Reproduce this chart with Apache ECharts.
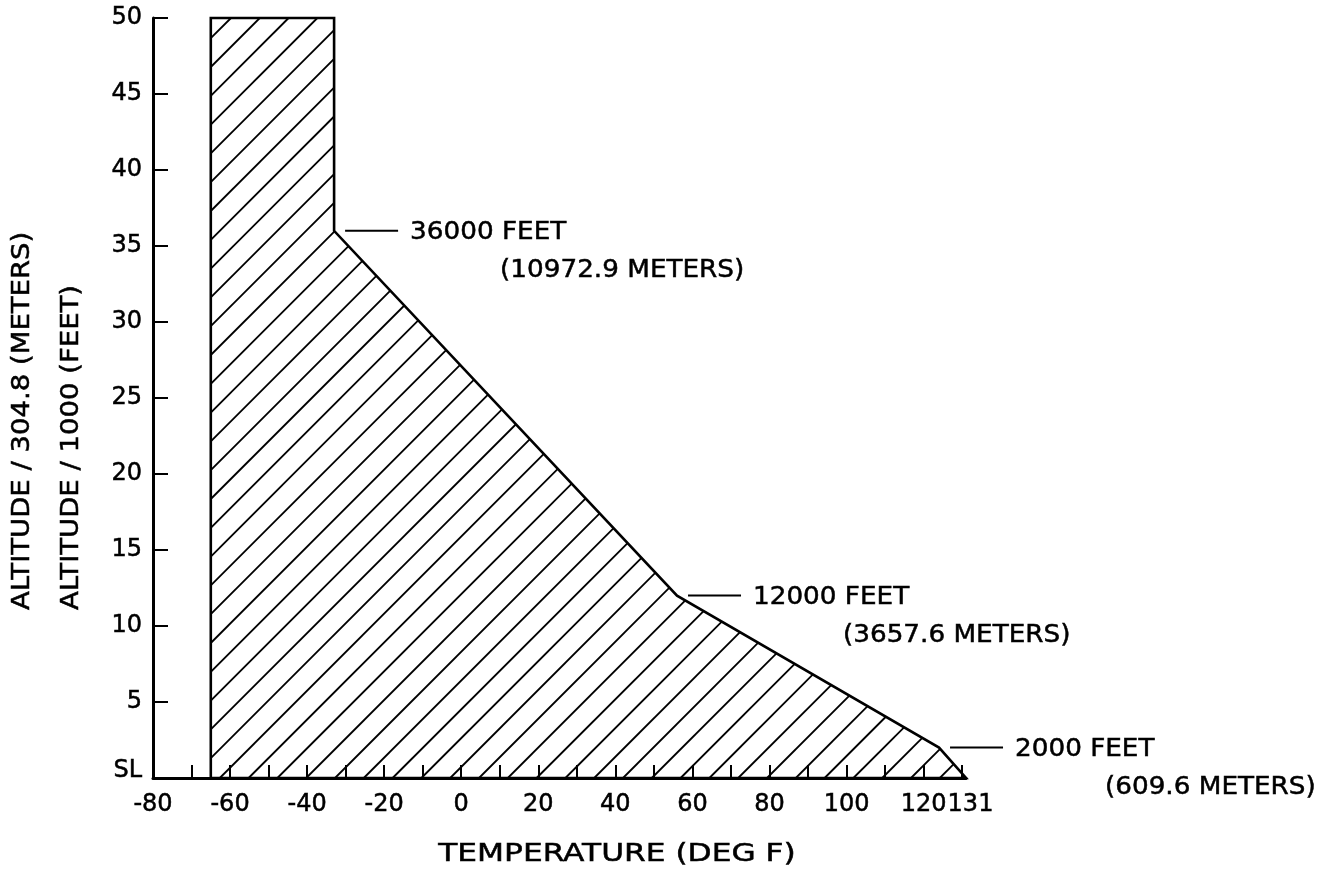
<!DOCTYPE html>
<html>
<head>
<meta charset="utf-8">
<script src="https://cdn.jsdelivr.net/npm/echarts@6/dist/echarts.min.js"></script>
<style>
  html, body { margin: 0; padding: 0; background: #fff; }
  #chart { width: 1333px; height: 870px; }
</style>
</head>
<body>
<div id="chart"></div>
<script>
// Envelope boundary: temperature (deg F) against altitude (thousands of feet)
const tempF = [-65, -65, -33, -33, 56, 124, 131];
const altitudeKft = [0, 50, 50, 36, 12, 2, 0];

// Axis ticks and labels
const xTickLabels = [-80, -60, -40, -20, 0, 20, 40, 60, 80, 100, 120, 131];
const xMinorTicks = [-70, -60, -50, -40, -30, -20, -10, 0, 10, 20, 30, 40, 50, 60, 70, 80, 90, 100, 110, 120, 130];

// Break-point callouts
const noteTempF = [-33, 56, 124];
const noteAltKft = [36, 12, 2];
const noteFeet = ['36000 FEET', '12000 FEET', '2000 FEET'];
const noteMeters = ['(10972.9 METERS)', '(3657.6 METERS)', '(609.6 METERS)'];

const FONT = 'DejaVu Sans';
const INK = '#000';
const HATCH_STEP = 28.8;   // horizontal distance between hatch lines, px
const HATCH_PHASE = 9;     // offset of the first hatch line from the lower-left corner, px
const X_MIN = -80, X_MAX = 131;

const chart = echarts.init(document.getElementById('chart'));

// Shaded envelope: outline plus 45-degree hatching clipped to the polygon
function renderEnvelope(params, api) {
  const pts = tempF.map((t, i) => api.coord([t, altitudeKft[i]]));
  const sums = pts.map(p => p[0] + p[1]);
  const lo = Math.min.apply(null, sums);
  const hi = Math.max.apply(null, sums);
  const base = pts[0][0] + pts[0][1] + HATCH_PHASE;
  const children = [];
  const k0 = Math.ceil((lo - base) / HATCH_STEP);
  for (let c = base + k0 * HATCH_STEP; c < hi; c += HATCH_STEP) {
    const hits = [];
    for (let i = 0; i < pts.length; i++) {
      const a = pts[i], b = pts[(i + 1) % pts.length];
      const fa = a[0] + a[1] - c, fb = b[0] + b[1] - c;
      if ((fa > 0) !== (fb > 0)) {
        const t = fa / (fa - fb);
        hits.push([a[0] + t * (b[0] - a[0]), a[1] + t * (b[1] - a[1])]);
      }
    }
    hits.sort((p, q) => p[0] - q[0]);
    for (let j = 0; j + 1 < hits.length; j += 2) {
      children.push({
        type: 'line',
        shape: { x1: hits[j][0], y1: hits[j][1], x2: hits[j + 1][0], y2: hits[j + 1][1] },
        style: { stroke: INK, lineWidth: 1.8 }
      });
    }
  }
  children.push({
    type: 'polygon',
    shape: { points: pts },
    style: { fill: 'none', stroke: INK, lineWidth: 2.6, lineJoin: 'miter' }
  });
  return { type: 'group', children: children };
}

const textStyleBase = {
  fill: INK, stroke: INK, lineWidth: 0.5,
  verticalAlign: 'middle', textVerticalAlign: 'middle'
};

// Leader line and two-line label at each break point
function renderNote(params, api) {
  const i = params.dataIndex;
  const p = api.coord([api.value(0), api.value(1)]);
  const textFont = '25px ' + FONT;
  return {
    type: 'group',
    children: [
      {
        type: 'line',
        shape: { x1: p[0] + 11, y1: p[1], x2: p[0] + 64, y2: p[1] },
        style: { stroke: INK, lineWidth: 2 }
      },
      {
        type: 'text', x: p[0] + 76, y: p[1] + 2, scaleX: 1.05,
        style: Object.assign({ text: noteFeet[i], font: textFont, align: 'left', textAlign: 'left' }, textStyleBase)
      },
      {
        type: 'text', x: p[0] + 166, y: p[1] + 40, scaleX: 1.05,
        style: Object.assign({ text: noteMeters[i], font: textFont, align: 'left', textAlign: 'left' }, textStyleBase)
      }
    ]
  };
}

const tickLabelStyle = {
  show: true, margin: 15, color: INK, fontFamily: FONT, fontSize: 24,
  textBorderColor: INK, textBorderWidth: 0.5,
  showMinLabel: true, showMaxLabel: true, hideOverlap: false,
  formatter: v => (v < 0 ? '-' + Math.abs(v) : String(v))
};

const option = {
  backgroundColor: '#fff',
  animation: false,
  grid: { left: 153, top: 18, width: 813, height: 760, containLabel: false },
  xAxis: [
    {
      type: 'value',
      position: 'bottom',
      min: X_MIN,
      max: X_MAX,
      axisLine: { show: true, onZero: false, lineStyle: { color: INK, width: 3 } },
      axisTick: { show: true, inside: true, length: 13, lineStyle: { color: INK, width: 2 }, customValues: xMinorTicks },
      axisLabel: Object.assign({}, tickLabelStyle, { customValues: xTickLabels.filter(v => v !== X_MAX) }),
      splitLine: { show: false }
    },
    {
      // end-of-scale label, kept on its own axis so it sits right beside its neighbour
      type: 'value',
      position: 'bottom',
      offset: 0,
      min: X_MIN,
      max: X_MAX,
      axisLine: { show: false },
      axisTick: { show: false },
      axisLabel: Object.assign({}, tickLabelStyle, {
        customValues: xTickLabels.filter(v => v === X_MAX),
        formatter: v => '{end|' + v + '}',
        rich: { end: { fontFamily: FONT, fontSize: 24, color: INK, textBorderColor: INK, textBorderWidth: 0.5, padding: [0, 0, 0, 9] } }
      }),
      splitLine: { show: false }
    }
  ],
  yAxis: {
    type: 'value',
    min: 0,
    max: 50,
    interval: 5,
    axisLine: { show: true, onZero: false, lineStyle: { color: INK, width: 3 } },
    axisTick: { show: true, inside: true, length: 15, lineStyle: { color: INK, width: 2 } },
    axisLabel: {
      show: true, margin: 11, color: INK, fontFamily: FONT, fontSize: 24,
      textBorderColor: INK, textBorderWidth: 0.5,
      showMinLabel: true, showMaxLabel: true,
      formatter: v => (v === 0 ? '{sl|SL}' : String(v)),
      rich: { sl: { fontFamily: FONT, fontSize: 24, color: INK, textBorderColor: INK, textBorderWidth: 0.5, padding: [0, 0, 14, 0] } }
    },
    splitLine: { show: false }
  },
  graphic: [
    {
      type: 'text', x: 617, y: 854, scaleX: 1.25,
      style: Object.assign({ text: 'TEMPERATURE (DEG F)', font: '25px ' + FONT, align: 'center', textAlign: 'center' }, textStyleBase)
    },
    {
      type: 'text', x: 22, y: 610, rotation: Math.PI / 2, scaleX: 1.1,
      style: Object.assign({ text: 'ALTITUDE / 304.8 (METERS)', font: '25px ' + FONT, align: 'left', textAlign: 'left' }, textStyleBase)
    },
    {
      type: 'text', x: 71, y: 610, rotation: Math.PI / 2, scaleX: 1.1,
      style: Object.assign({ text: 'ALTITUDE / 1000 (FEET)', font: '25px ' + FONT, align: 'left', textAlign: 'left' }, textStyleBase)
    }
  ],
  series: [
    {
      type: 'custom',
      name: 'Envelope',
      renderItem: renderEnvelope,
      data: [[tempF[0], altitudeKft[0]]],
      silent: true,
      z: 3
    },
    {
      type: 'custom',
      name: 'Break points',
      renderItem: renderNote,
      data: noteTempF.map((t, i) => [t, noteAltKft[i]]),
      silent: true,
      z: 4
    }
  ]
};

chart.setOption(option);
</script>
</body>
</html>
